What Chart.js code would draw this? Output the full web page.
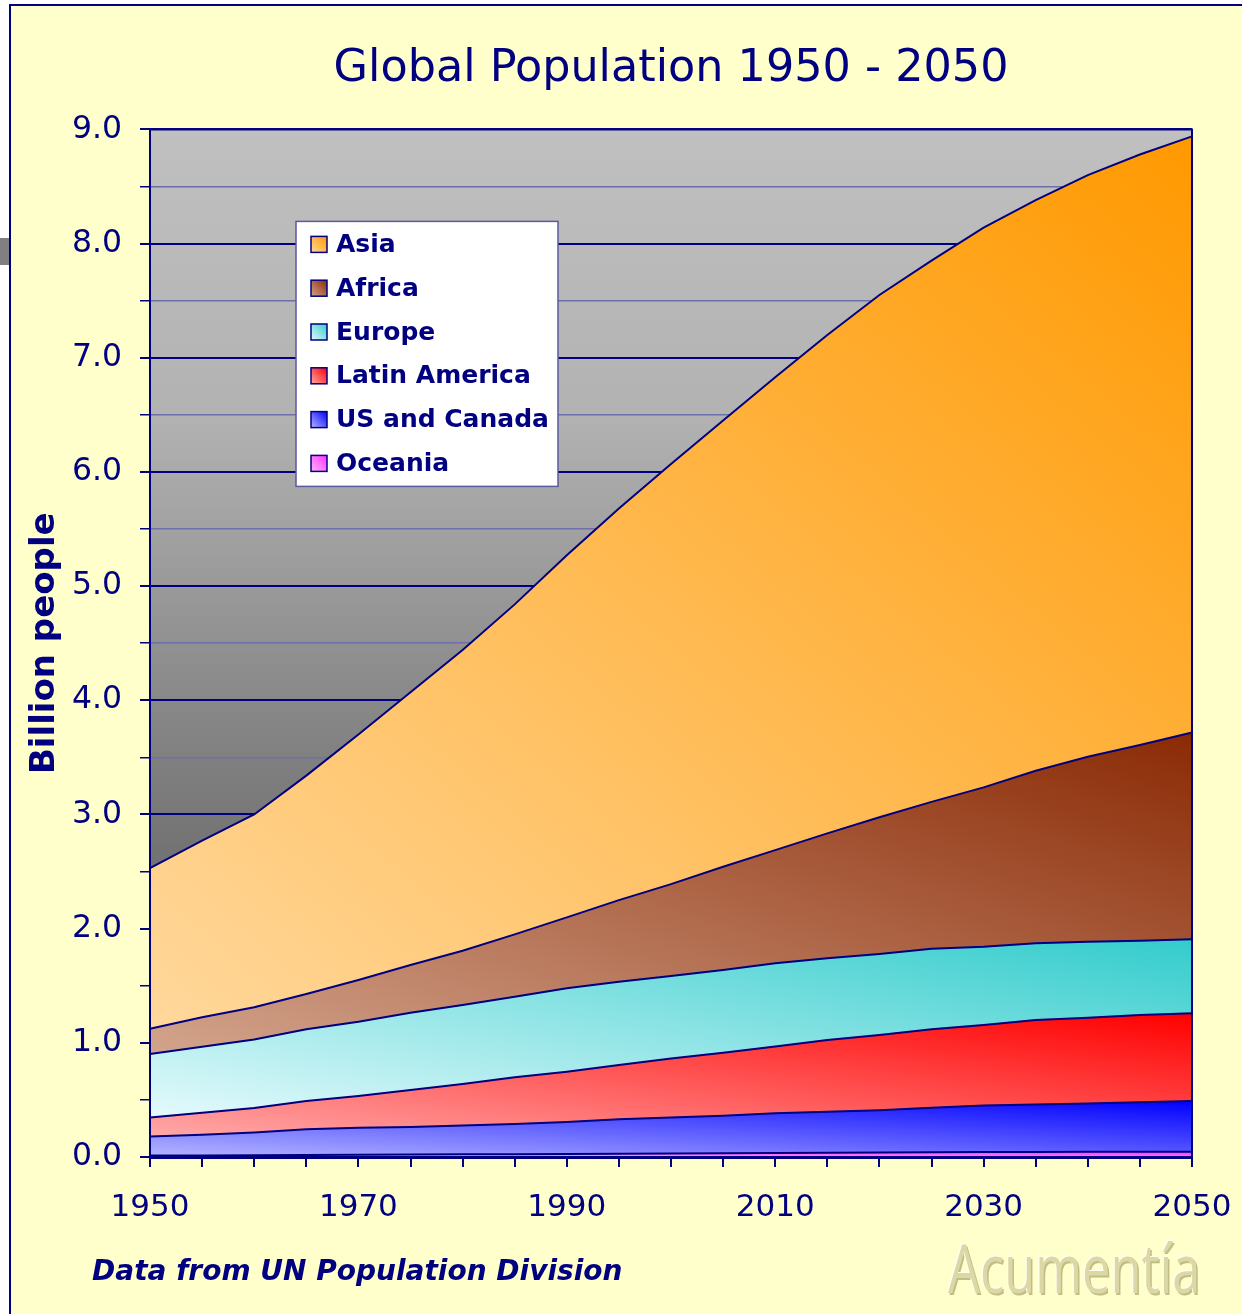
<!DOCTYPE html>
<html>
<head>
<meta charset="utf-8">
<title>Global Population 1950 - 2050</title>
<script src="https://cdn.jsdelivr.net/npm/chart.js@4.4.1/dist/chart.umd.min.js"></script>
<style>
  html, body { margin: 0; padding: 0; background: #ffffff; overflow: hidden; width: 1242px; height: 1314px; }
  #frame { position: absolute; left: 9px; top: 4px; width: 1300px; height: 1330px;
           background: #ffffcc; border: 2px solid #000080; box-sizing: border-box; }
  #mark { position: absolute; left: 0; top: 238px; width: 9px; height: 27px; background: #808080; }
  #wrap { position: absolute; left: 0; top: 0; width: 1242px; height: 1314px; }
</style>
</head>
<body>
<div id="frame"></div>
<div id="mark"></div>
<div id="wrap"><canvas id="myChart"></canvas></div>
<script>
// billions of people, every 5 years (UN Population Division)
const years = [1950, 1955, 1960, 1965, 1970, 1975, 1980, 1985, 1990, 1995, 2000,
               2005, 2010, 2015, 2020, 2025, 2030, 2035, 2040, 2045, 2050];
const xTickLabels = ['1950', '1970', '1990', '2010', '2030', '2050'];

const oceania      = [0.013, 0.014, 0.016, 0.017, 0.019, 0.021, 0.023, 0.024, 0.026, 0.029, 0.031,
                      0.033, 0.035, 0.037, 0.039, 0.041, 0.043, 0.044, 0.045, 0.046, 0.046];
const usCanada     = [0.167, 0.181, 0.198, 0.225, 0.238, 0.241, 0.253, 0.265, 0.280, 0.301, 0.316,
                      0.329, 0.348, 0.360, 0.371, 0.390, 0.407, 0.415, 0.424, 0.433, 0.445];
const latinAmerica = [0.167, 0.193, 0.215, 0.248, 0.278, 0.325, 0.363, 0.409, 0.441, 0.476, 0.515,
                      0.552, 0.584, 0.628, 0.658, 0.687, 0.706, 0.741, 0.751, 0.764, 0.767];
const europe       = [0.555, 0.578, 0.601, 0.628, 0.650, 0.677, 0.692, 0.706, 0.730, 0.729, 0.723,
                      0.723, 0.729, 0.715, 0.710, 0.705, 0.686, 0.672, 0.665, 0.652, 0.650];
const africa       = [0.222, 0.258, 0.281, 0.309, 0.365, 0.417, 0.475, 0.546, 0.622, 0.715, 0.805,
                      0.905, 0.992, 1.094, 1.197, 1.287, 1.395, 1.511, 1.620, 1.713, 1.810];
const asia         = [1.406, 1.546, 1.689, 1.913, 2.150, 2.389, 2.634, 2.890, 3.171, 3.430, 3.680,
                      3.908, 4.142, 4.366, 4.575, 4.740, 4.903, 4.997, 5.095, 5.172, 5.221];

const navy = '#000080';
const font = '"DejaVu Sans", Verdana, sans-serif';

// diagonal (bottom-left light -> top-right dark) gradient over the band's box, like Excel's fill
function bandGradient(index, light, dark) {
    return function (context) {
        const chart = context.chart;
        const area = chart.chartArea;
        if (!area) return light;
        const sets = chart.data.datasets;
        let lo = Infinity, hi = -Infinity;
        for (let p = 0; p < years.length; p++) {
            let base = 0;
            for (let d = 0; d < index; d++) base += sets[d].data[p];
            lo = Math.min(lo, base);
            hi = Math.max(hi, base + sets[index].data[p]);
        }
        const yb = chart.scales.y.getPixelForValue(lo);
        const yt = chart.scales.y.getPixelForValue(hi);
        const W = area.right - area.left, H = Math.max(yb - yt, 1);
        const n = Math.sqrt(W * W + H * H);
        const len = 2 * W * H / n;
        const g = chart.ctx.createLinearGradient(area.left, yb, area.left + H / n * len, yb - W / n * len);
        g.addColorStop(0, light);
        g.addColorStop(1, dark);
        return g;
    };
}

const palette = [
    ['#ffb4ff', '#ff33ff'],
    ['#b4b4ff', '#0000ff'],
    ['#ffa8a8', '#ff0000'],
    ['#e4fafc', '#33cccc'],
    ['#d2a48c', '#8b2a05'],
    ['#ffd89c', '#ff9900']
];

function band(label, data, i) {
    return {
        label: label,
        data: data,
        fill: i === 0 ? 'origin' : '-1',
        backgroundColor: bandGradient(i, palette[i][0], palette[i][1]),
        borderColor: navy,
        borderWidth: 2,
        pointRadius: 0,
        pointHoverRadius: 0,
        tension: 0
    };
}

const plotBackground = {
    id: 'plotBackground',
    beforeDraw(chart) {
        const a = chart.chartArea, ctx = chart.ctx;
        const g = ctx.createLinearGradient(0, a.top, 0, a.bottom);
        g.addColorStop(0, '#c0c0c0');
        g.addColorStop(0.28, '#b2b2b2');
        g.addColorStop(0.7, '#737373');
        g.addColorStop(1, '#5a5a5a');
        ctx.save();
        ctx.fillStyle = g;
        ctx.fillRect(a.left, a.top, a.right - a.left, a.bottom - a.top);
        ctx.restore();
    },
    afterDatasetsDraw(chart) {
        const a = chart.chartArea, ctx = chart.ctx;
        ctx.save();
        ctx.strokeStyle = navy;
        ctx.lineWidth = 2;
        ctx.beginPath();
        ctx.moveTo(a.left, a.top);
        ctx.lineTo(a.right, a.top);
        ctx.lineTo(a.right, a.bottom);
        ctx.stroke();
        ctx.restore();
    }
};

const boxLegend = {
    id: 'boxLegend',
    afterDraw(chart) {
        const a = chart.chartArea, ctx = chart.ctx;
        const bx = a.left + 146, by = a.top + 92, bw = 262, bh = 265;
        ctx.save();
        ctx.fillStyle = '#ffffff';
        ctx.fillRect(bx, by, bw, bh);
        ctx.strokeStyle = '#5a5aa0';
        ctx.lineWidth = 1.5;
        ctx.strokeRect(bx, by, bw, bh);
        const sets = chart.data.datasets;
        ctx.font = 'bold 25px ' + font;
        ctx.textBaseline = 'middle';
        for (let k = 0; k < sets.length; k++) {
            const i = sets.length - 1 - k;
            const cy = by + 23 + k * 43.8;
            const sx = bx + 15, s = 16;
            const g = ctx.createLinearGradient(sx, cy + s / 2, sx + s, cy - s / 2);
            g.addColorStop(0, palette[i][0]);
            g.addColorStop(1, palette[i][1]);
            ctx.fillStyle = g;
            ctx.fillRect(sx, cy - s / 2, s, s);
            ctx.strokeStyle = navy;
            ctx.lineWidth = 1.5;
            ctx.strokeRect(sx, cy - s / 2, s, s);
            ctx.fillStyle = navy;
            ctx.fillText(sets[i].label, bx + 40, cy + 1);
        }
        ctx.restore();
    }
};

const notes = {
    id: 'notes',
    afterDraw(chart) {
        const a = chart.chartArea, ctx = chart.ctx;
        ctx.save();
        ctx.fillStyle = navy;
        ctx.font = 'italic bold 28px ' + font;
        ctx.textBaseline = 'middle';
        ctx.fillText('Data from UN Population Division', a.left - 58, a.bottom + 116);

        // watermark
        ctx.font = '67px "Open Sans", sans-serif';
        ctx.textBaseline = 'alphabetic';
        ctx.translate(a.right - 244, a.bottom + 136);
        ctx.scale(0.755, 1);
        ctx.fillStyle = '#c2bd84';
        ctx.fillText('Acumentía', 2, 2);
        ctx.fillStyle = '#fffff2';
        ctx.fillText('Acumentía', -1.5, -1.5);
        ctx.fillStyle = '#dcd8a6';
        ctx.fillText('Acumentía', 0, 0);
        ctx.restore();
    }
};

const ctx = document.getElementById('myChart');

new Chart(ctx, {
    type: 'line',
    data: {
        labels: years.map(String),
        datasets: [
            band('Oceania', oceania, 0),
            band('US and Canada', usCanada, 1),
            band('Latin America', latinAmerica, 2),
            band('Europe', europe, 3),
            band('Africa', africa, 4),
            band('Asia', asia, 5)
        ]
    },
    options: {
        responsive: true,
        maintainAspectRatio: false,
        animation: false,
        events: [],
        layout: { padding: { left: 20, right: 50, top: 0, bottom: 77 } },
        plugins: {
            legend: { display: false },
            tooltip: { enabled: false },
            title: {
                display: true,
                fullSize: false,
                text: 'Global Population 1950 - 2050',
                color: navy,
                font: { family: font, size: 44.5, weight: 'normal' },
                padding: { top: 43, bottom: 33 }
            }
        },
        scales: {
            x: {
                offset: false,
                grid: { drawOnChartArea: false, color: navy, tickColor: navy, tickLength: 10, lineWidth: 2, offset: false },
                border: { color: navy, width: 3, z: 1 },
                ticks: {
                    autoSkip: false,
                    maxRotation: 0,
                    padding: 22,
                    color: navy,
                    font: { family: font, size: 31 },
                    callback: function (value) {
                        const lab = this.getLabelForValue(value);
                        return xTickLabels.includes(lab) ? lab : '';
                    }
                },
                afterFit: function (scale) {
                    scale.height = 80;
                    scale.paddingLeft = 0;
                    scale.paddingRight = 0;
                }
            },
            y: {
                stacked: true,
                min: 0,
                max: 9,
                grid: {
                    color: (c) => (c.tick && c.tick.value % 1 === 0) ? navy : '#6e6eaa',
                    lineWidth: (c) => (c.tick && c.tick.value % 1 === 0) ? 2 : 1.5,
                    tickColor: navy,
                    tickLength: 10
                },
                border: { color: navy, width: 2, z: 1 },
                ticks: {
                    stepSize: 0.5,
                    padding: 18,
                    color: navy,
                    font: { family: font, size: 31.5 },
                    callback: (v) => v % 1 === 0 ? v.toFixed(1) : ''
                },
                title: {
                    display: true,
                    text: 'Billion people',
                    color: navy,
                    font: { family: font, size: 34, weight: 'bold' },
                    padding: { top: 5, bottom: 0 }
                },
                afterFit: function (scale) { scale.width = 130; }
            }
        }
    },
    plugins: [plotBackground, boxLegend, notes]
});
</script>
</body>
</html>
